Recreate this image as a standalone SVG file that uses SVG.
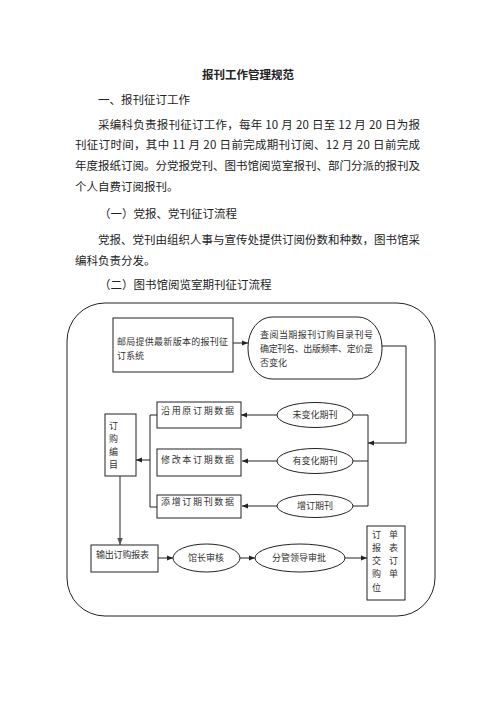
<svg xmlns="http://www.w3.org/2000/svg" width="496" height="702" viewBox="0 0 496 702">
<style>
.t{font-family:"Noto Sans CJK SC","Noto Sans",sans-serif;font-size:11.5px;fill:#222}
.b{font-weight:bold}
.d{font-family:"Noto Sans CJK SC","Noto Sans",sans-serif;font-size:9px;fill:#333}
.s{fill:#fff;stroke:#222;stroke-width:1}
.c{fill:none;stroke:#222;stroke-width:1}
.g{fill:none;stroke:#777;stroke-width:1.6}
</style>
<defs>
<marker id="a" viewBox="0 0 10 10" refX="10" refY="5" markerWidth="6" markerHeight="6" orient="auto" markerUnits="userSpaceOnUse"><path d="M0,1 L10,5 L0,9 z" fill="#222"/></marker>
<marker id="ag" viewBox="0 0 10 10" refX="10" refY="5" markerWidth="7" markerHeight="7" orient="auto" markerUnits="userSpaceOnUse"><path d="M0,1 L10,5 L0,9 z" fill="#555"/></marker>
</defs>
<rect width="496" height="702" fill="#fff"/>
<g id="text">
<text class="t b" x="248" y="79" text-anchor="middle">报刊工作管理规范</text>
<text class="t" x="98" y="104">一、报刊征订工作</text>
<text class="t" x="98" y="129" textLength="322" lengthAdjust="spacing">采编科负责报刊征订工作，每年 10 月 20 日至 12 月 20 日为报</text>
<text class="t" x="75" y="149" textLength="345" lengthAdjust="spacing">刊征订时间，其中 11 月 20 日前完成期刊订阅、12 月 20 日前完成</text>
<text class="t" x="75" y="170" textLength="345" lengthAdjust="spacing">年度报纸订阅。分党报党刊、图书馆阅览室报刊、部门分派的报刊及</text>
<text class="t" x="75" y="191">个人自费订阅报刊。</text>
<text class="t" x="99" y="218">（一）党报、党刊征订流程</text>
<text class="t" x="98" y="244" textLength="322" lengthAdjust="spacing">党报、党刊由组织人事与宣传处提供订阅份数和种数，图书馆采</text>
<text class="t" x="75" y="265">编科负责分发。</text>
<text class="t" x="99" y="289">（二）图书馆阅览室期刊征订流程</text>
</g>
<rect id="frame" x="67" y="303" width="368" height="313" rx="38" ry="38" class="s"/>
<g id="connectors">
<line class="c" x1="233" y1="343" x2="248" y2="343" marker-end="url(#a)"/>
<polyline class="c" points="382,346 406,346 406,443 368,443" marker-end="url(#a)"/>
<line class="c" x1="368" y1="415" x2="368" y2="506"/>
<line class="c" x1="353" y1="415" x2="368" y2="415"/>
<line class="c" x1="353" y1="461" x2="368" y2="461"/>
<line class="c" x1="353" y1="506" x2="368" y2="506"/>
<line class="c" x1="277" y1="415" x2="241" y2="415" marker-end="url(#a)"/>
<line class="c" x1="277" y1="461" x2="242" y2="461" marker-end="url(#a)"/>
<line class="c" x1="277" y1="506" x2="242" y2="506" marker-end="url(#a)"/>
<polyline class="c" points="157,415 150,415 150,507 157,507"/>
<line class="c" x1="150" y1="460" x2="136" y2="460" marker-end="url(#a)"/>
<line class="g" x1="120" y1="476" x2="120" y2="545" marker-end="url(#ag)"/>
<line class="c" x1="158" y1="558" x2="173" y2="558" marker-end="url(#a)"/>
<line class="c" x1="240" y1="558" x2="255" y2="558" marker-end="url(#a)"/>
<line class="c" x1="345" y1="558" x2="367" y2="558" marker-end="url(#a)"/>
</g>
<g id="n1"><rect class="s" x="113" y="318" width="120" height="54"/>
<text class="d" x="117" y="345" textLength="111" lengthAdjust="spacing">邮局提供最新版本的报刊征</text>
<text class="d" x="117" y="359">订系统</text></g>
<g id="n2"><rect class="s" x="248" y="317" width="134" height="62" rx="24" ry="30"/>
<text class="d" x="260" y="338" textLength="113" lengthAdjust="spacing">查阅当期报刊订购目录刊号</text>
<text class="d" x="260" y="352" textLength="113" lengthAdjust="spacing">确定刊名、出版频率、定价是</text>
<text class="d" x="260" y="366">否变化</text></g>
<g id="n3"><ellipse class="s" cx="315" cy="415" rx="38" ry="12.5"/>
<text class="d" x="315" y="418" text-anchor="middle">未变化期刊</text></g>
<g id="n4"><ellipse class="s" cx="315" cy="461" rx="38" ry="12.5"/>
<text class="d" x="315" y="464" text-anchor="middle">有变化期刊</text></g>
<g id="n5"><ellipse class="s" cx="315" cy="506" rx="38" ry="11.5"/>
<text class="d" x="315" y="509" text-anchor="middle">增订期刊</text></g>
<g id="n6"><rect class="s" x="157" y="402" width="84" height="26"/>
<text class="d" x="161" y="414" textLength="73" lengthAdjust="spacing">沿用原订期数据</text></g>
<g id="n7"><rect class="s" x="157" y="449" width="84" height="27"/>
<text class="d" x="161" y="463" textLength="73" lengthAdjust="spacing">修改本订期数据</text></g>
<g id="n8"><rect class="s" x="157" y="495" width="84" height="23"/>
<text class="d" x="161" y="505" textLength="73" lengthAdjust="spacing">添增订期刊数据</text></g>
<g id="n9"><rect class="s" x="105" y="414" width="31" height="62"/>
<text class="d" x="109" y="429">订</text>
<text class="d" x="109" y="442">购</text>
<text class="d" x="109" y="455">编</text>
<text class="d" x="109" y="468">目</text></g>
<g id="n10"><rect class="s" x="91" y="545" width="67" height="27"/>
<text class="d" x="96" y="558" textLength="53" lengthAdjust="spacing">输出订购报表</text></g>
<g id="n11"><ellipse class="s" cx="206.5" cy="558" rx="33.5" ry="14"/>
<text class="d" x="206" y="561" text-anchor="middle" letter-spacing="0">馆长审核</text></g>
<g id="n12"><ellipse class="s" cx="300" cy="558" rx="45" ry="14"/>
<text class="d" x="299" y="561" text-anchor="middle">分管领导审批</text></g>
<g id="n13"><rect class="s" x="367" y="526" width="38" height="74"/>
<text class="d" x="372" y="538">订</text><text class="d" x="389" y="538">单</text>
<text class="d" x="372" y="551">报</text><text class="d" x="389" y="551">表</text>
<text class="d" x="372" y="564">交</text><text class="d" x="389" y="564">订</text>
<text class="d" x="372" y="577">购</text><text class="d" x="389" y="577">单</text>
<text class="d" x="372" y="591">位</text></g>
</svg>
